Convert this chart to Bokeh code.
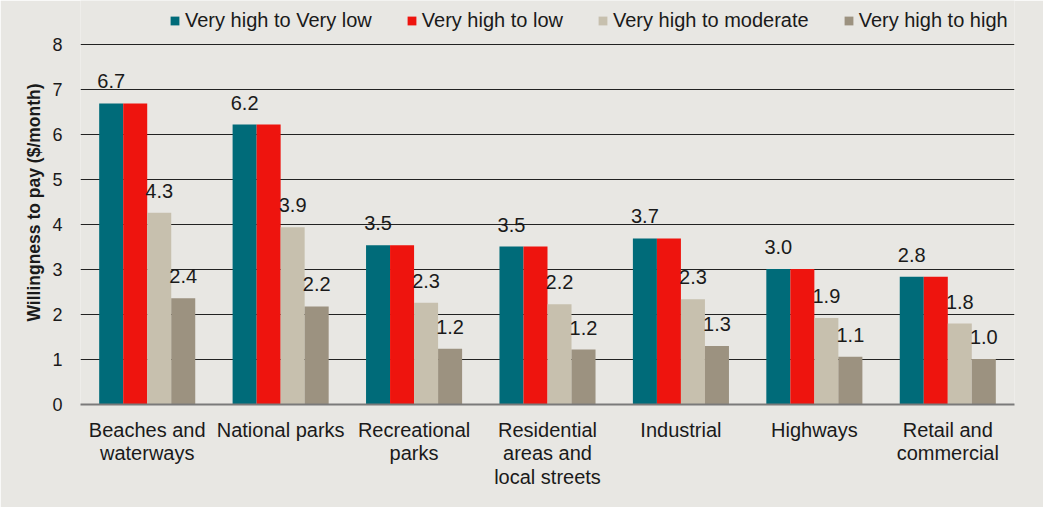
from bokeh.plotting import figure
from bokeh.models import ColumnDataSource, FactorRange, Range1d, Legend, LegendItem, LabelSet
from bokeh.transform import dodge
from bokeh.embed import file_html
from bokeh.resources import INLINE
from bokeh.core.properties import value

categories = ["Beaches and\nwaterways", "National parks", "Recreational\nparks",
              "Residential\nareas and\nlocal streets", "Industrial", "Highways",
              "Retail and\ncommercial"]
series_names = ["Very high to Very low", "Very high to low", "Very high to moderate", "Very high to high"]
very_low = [6.69, 6.22, 3.54, 3.51, 3.69, 3.01, 2.84]
low = [6.69, 6.22, 3.54, 3.51, 3.69, 3.01, 2.84]
moderate = [4.26, 3.94, 2.26, 2.23, 2.34, 1.92, 1.80]
high = [2.36, 2.18, 1.24, 1.22, 1.30, 1.06, 1.01]
y_ticks = [0, 1, 2, 3, 4, 5, 6, 7, 8]

colors = ["#006B79", "#EE140E", "#C7C0AE", "#9C9280"]
BG = "#E8E7E3"
FONT = "Liberation Sans"
TXT = "#1a1a1a"

src = ColumnDataSource(dict(
    cat=categories,
    s0=very_low, s1=low, s2=moderate, s3=high,
    l0=[f"{v:.1f}" for v in very_low],
    l2=[f"{v:.1f}" for v in moderate],
    l3=[f"{v:.1f}" for v in high],
))

# frame spans the full top of the figure so the legend inside it is not clipped;
# value 8 sits 44px below the top (45px per unit)
p = figure(x_range=FactorRange(*categories, range_padding=0), y_range=Range1d(0, 8 + 44 / 45),
           width=1043, height=507, output_backend="svg", toolbar_location=None,
           min_border_left=80, min_border_right=29, min_border_top=0, min_border_bottom=103,
           background_fill_color=BG, border_fill_color=BG, outline_line_color=None)

offsets = [-0.27, -0.09, 0.09, 0.27]
renderers = []
for i, off in enumerate(offsets):
    r = p.vbar(x=dodge("cat", off, range=p.x_range), top=f"s{i}", width=0.18, source=src,
               fill_color=colors[i], line_color=None)
    renderers.append(r)

for i in [0, 2, 3]:
    lbl = LabelSet(x=dodge("cat", offsets[i], range=p.x_range), y=f"s{i}", text=f"l{i}",
                   source=src, text_align="center", text_baseline="alphabetic", y_offset=15,
                   text_font_size=value("20px"), text_font=value(FONT), text_color=value(TXT))
    p.add_layout(lbl)

legend = Legend(items=[LegendItem(label=n, renderers=[r]) for n, r in zip(series_names, renderers)],
                orientation="horizontal", location=(89, 372), border_line_color=None,
                background_fill_alpha=0, padding=0, margin=0, spacing=34,
                glyph_width=11, glyph_height=11, label_standoff=5,
                label_text_font_size="20px", label_text_font=FONT, label_text_color=TXT)
p.add_layout(legend, "center")

p.yaxis.ticker = y_ticks
p.yaxis.axis_label = "Willingness to pay ($/month)"
p.yaxis.axis_label_text_font = FONT
p.yaxis.axis_label_text_font_style = "bold"
p.yaxis.axis_label_text_font_size = "17.5px"
p.yaxis.axis_label_text_color = TXT
p.yaxis.axis_label_standoff = 5
p.yaxis.axis_line_color = None
p.yaxis.major_tick_line_color = None
p.yaxis.minor_tick_line_color = None
p.yaxis.major_tick_out = 0
p.yaxis.major_label_standoff = 18
p.yaxis.major_label_text_font = FONT
p.yaxis.major_label_text_font_size = "18px"
p.yaxis.major_label_text_color = TXT

p.xaxis.axis_line_color = "#7a7a7a"
p.xaxis.axis_line_width = 2
p.xaxis.major_tick_line_color = None
p.xaxis.major_tick_out = 0
p.xaxis.major_label_standoff = 14
p.xaxis.major_label_text_font = FONT
p.xaxis.major_label_text_font_size = "20px"
p.xaxis.major_label_text_color = TXT
p.xaxis.major_label_text_line_height = 1.08

p.xgrid.grid_line_color = None
p.ygrid.grid_line_color = "#222222"
p.ygrid.grid_line_width = 1

open("out.html", "w").write(file_html(p, INLINE))
